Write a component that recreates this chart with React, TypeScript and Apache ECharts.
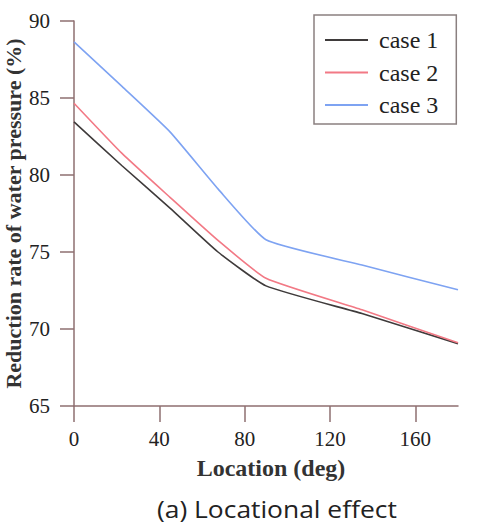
import React, { useEffect, useRef } from "react";
import * as echarts from "echarts";

const locations = [0, 22.5, 45, 67.5, 90, 135, 180];
const case1 = [83.45, 80.6, 77.85, 75.0, 72.8, 71.0, 69.05];
const case2 = [84.66, 81.4, 78.55, 75.75, 73.3, 71.25, 69.1];
const case3 = [88.65, 85.75, 82.8, 79.1, 75.8, 74.15, 72.55];
const seriesNames = ["case 1", "case 2", "case 3"];
const seriesColors = ["#3f3b3b", "#f27985", "#7ea3f2"];
const xTicks = [0, 40, 80, 120, 160];

const axisColor = "#8e6f70";
const serif = "Liberation Serif";

export default function App() {
  const ref = useRef<HTMLDivElement>(null);
  useEffect(() => {
    document.body.style.margin = "0";
    const chart = echarts.init(ref.current!, null, { renderer: "svg" });
    const datasets = [case1, case2, case3];
    chart.setOption({
      animation: false,
      backgroundColor: "#ffffff",
      grid: { left: 74, right: 35, top: 21, bottom: 117, containLabel: false, outerBoundsMode: "none" },
      legend: {
        left: 314,
        top: 15,
        orient: "vertical",
        icon: "rect",
        itemWidth: 43,
        itemHeight: 2,
        itemGap: 8.5,
        borderColor: "#8a8080",
        borderWidth: 1.5,
        borderRadius: 0,
        padding: [13, 18, 7, 11],
        formatter: (name: string) => " " + name,
        textStyle: {
          fontFamily: serif,
          fontSize: 24,
          color: "#222",
          lineHeight: 24,
        },
        data: seriesNames,
      },
      xAxis: {
        type: "value",
        min: 0,
        max: 180,
        interval: 40,
        name: "Location (deg)",
        nameLocation: "middle",
        nameGap: 50,
        nameTextStyle: { fontFamily: serif, fontSize: 24, fontWeight: "bold", color: "#333", padding: [0, 0, 0, 10] },
        axisLine: { show: true, lineStyle: { color: axisColor, width: 1.5 } },
        axisTick: { show: true, length: 16, customValues: xTicks, lineStyle: { color: axisColor, width: 1.5 } },
        axisLabel: { customValues: xTicks, margin: 22, fontFamily: serif, fontSize: 21, color: "#222" },
        splitLine: { show: false },
      },
      yAxis: {
        type: "value",
        min: 65,
        max: 90,
        interval: 5,
        name: "Reduction rate of water pressure (%)",
        nameLocation: "middle",
        nameRotate: 90,
        nameGap: 50,
        nameMoveOverlap: false,
        nameTextStyle: { fontFamily: serif, fontSize: 22, fontWeight: "bold", color: "#333" },
        axisLine: { show: true, lineStyle: { color: axisColor, width: 1.5 } },
        axisTick: { show: true, length: 14, lineStyle: { color: axisColor, width: 1.5 } },
        axisLabel: { margin: 24, fontFamily: serif, fontSize: 21, color: "#222" },
        splitLine: { show: false },
      },
      series: datasets.map((d, i) => ({
        name: seriesNames[i],
        type: "line",
        symbol: "none",
        smooth: 0.15,
        data: locations.map((x, j) => [x, d[j]]),
        lineStyle: { color: seriesColors[i], width: 1.6 },
        itemStyle: { color: seriesColors[i] },
      })),
      graphic: [
        {
          type: "text",
          left: 157,
          top: 496,
          scaleX: 1.1,
          style: {
            text: "(a) Locational effect",
            fontFamily: "Open Sans",
            fontSize: 24,
            fill: "#222",
          },
        },
      ],
    });
    return () => chart.dispose();
  }, []);
  return <div ref={ref} style={{ width: 493, height: 523 }} />;
}
